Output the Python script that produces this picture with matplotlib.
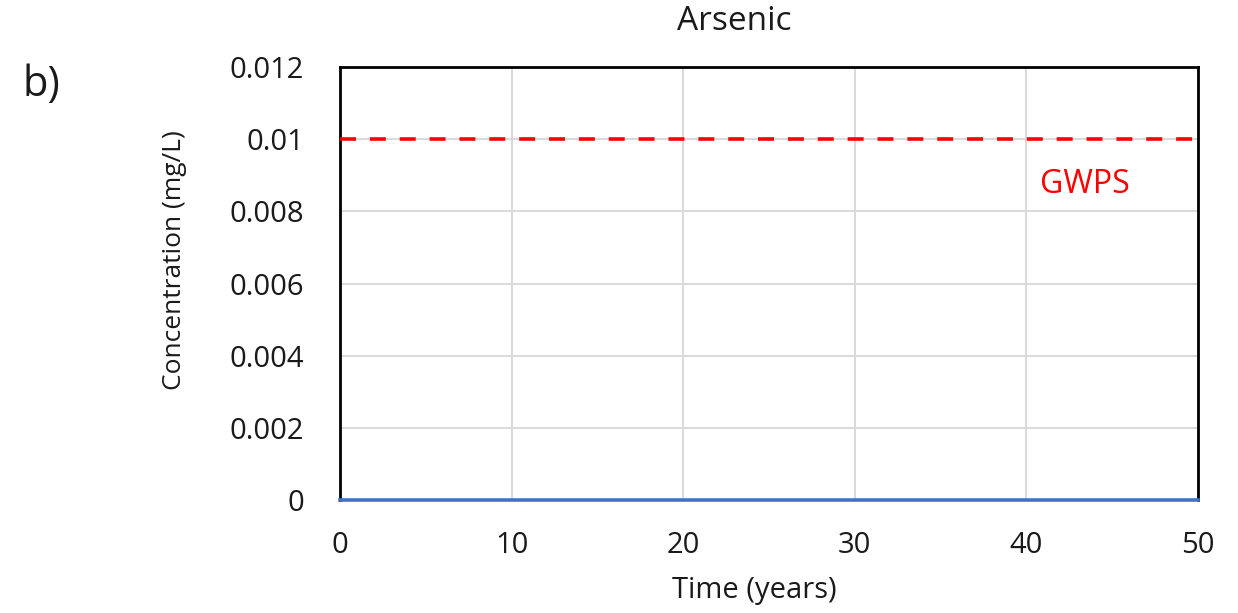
import numpy as np
import matplotlib.pyplot as plt

plt.rcParams['font.family'] = ['Open Sans', 'DejaVu Sans']
plt.rcParams['lines.scale_dashes'] = False

# data
years = [0, 50]
arsenic = [0.0, 0.0]
gwps_level = 0.01
xticks = [0, 10, 20, 30, 40, 50]
yticks = [0, 0.002, 0.004, 0.006, 0.008, 0.01, 0.012]
yticklabels = ['0', '0.002', '0.004', '0.006', '0.008', '0.01', '0.012']

fig = plt.figure(figsize=(12.38, 6.13), dpi=100)
ax = fig.add_axes([0.2746, 0.1843, 0.6931, 0.7064])

ax.plot(years, [gwps_level, gwps_level], color='#ff0000', linewidth=2.6,
        dashes=(11.5, 10), zorder=3)
ax.plot(years, arsenic, color='#4472c4', linewidth=2.6, zorder=4, clip_on=False)

ax.set_xlim(0, 50)
ax.set_ylim(0, 0.012)
ax.set_xticks(xticks)
ax.set_yticks(yticks)
ax.set_yticklabels(yticklabels)
ax.tick_params(length=0, labelsize=21, colors='#1a1a1a')
ax.tick_params(axis='y', pad=26)
ax.tick_params(axis='x', pad=22)
ax.grid(color='#d9d9d9', linewidth=1.4)
ax.set_axisbelow(True)
for s in ['left', 'top', 'right']:
    ax.spines[s].set_color('black')
    ax.spines[s].set_linewidth(2)
ax.spines['bottom'].set_visible(False)

ax.text(40.8, 0.00875, 'GWPS', color='#ff0000', fontsize=23, va='center', ha='left')

ax.text(0.46, 1.104, 'Arsenic', transform=ax.transAxes, fontsize=24,
        ha='center', va='center', color='#1a1a1a')
ax.set_xlabel('Time (years)', fontsize=21, color='#1a1a1a', va='center')
ax.set_ylabel('Concentration (mg/L)', fontsize=19, color='#1a1a1a', va='center')
ax.xaxis.set_label_coords(0.4825, -0.21)
ax.yaxis.set_label_coords(-0.193, 0.554)
fig.text(0.018, 0.862, 'b)', fontsize=30, va='center', color='#1a1a1a')

fig.savefig('out.png', dpi=100)
